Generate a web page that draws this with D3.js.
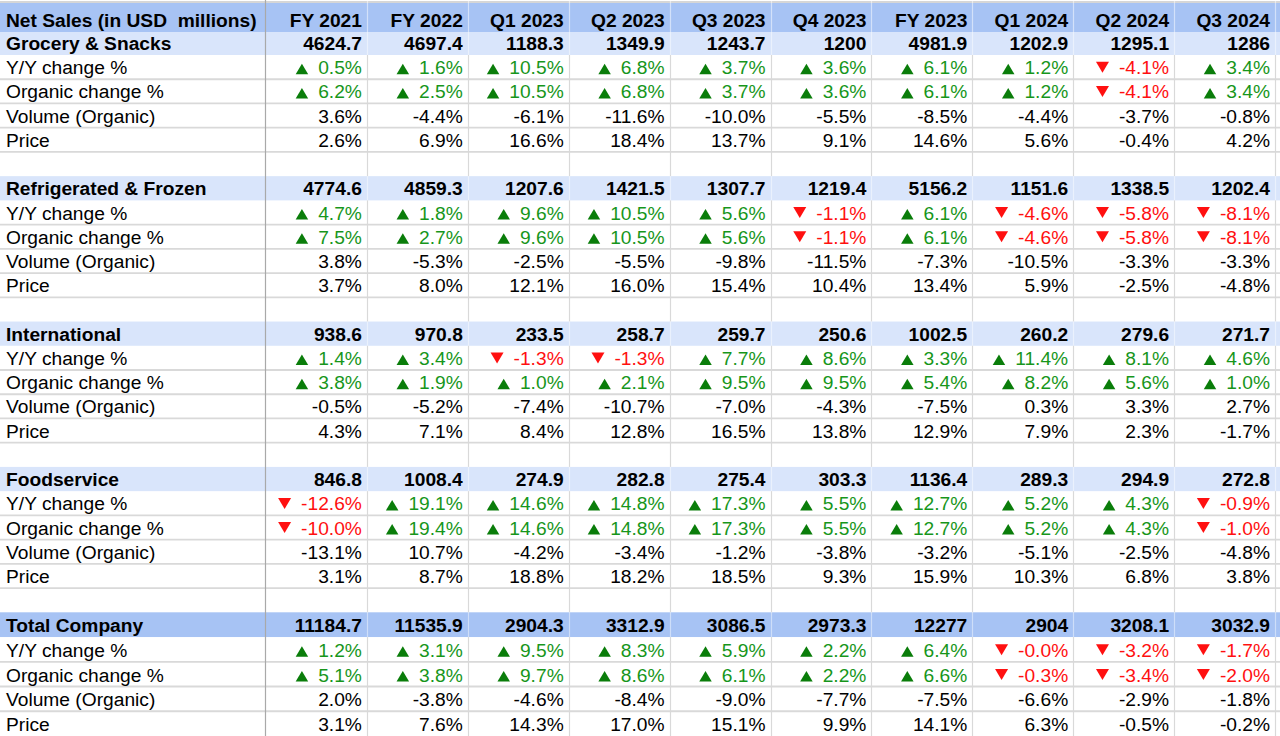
<!DOCTYPE html>
<html><head><meta charset="utf-8">
<script src="https://cdn.jsdelivr.net/npm/d3@7"></script>
<style>
html,body{margin:0;padding:0;background:#fff;}
svg text{font-family:"Liberation Sans",Arial,sans-serif;white-space:pre;}
</style></head>
<body><svg id="c" width="1280" height="736"></svg>
<script>
const headerLabel = "Net Sales (in USD  millions)";
const columns = ["FY 2021","FY 2022","Q1 2023","Q2 2023","Q3 2023","Q4 2023","FY 2023","Q1 2024","Q2 2024","Q3 2024"];
const segments = ["Grocery & Snacks","Refrigerated & Frozen","International","Foodservice","Total Company"];
const metrics = ["Y/Y change %","Organic change %","Volume (Organic)","Price"];

const groceryNet     = [4624.7, 4697.4, 1188.3, 1349.9, 1243.7, 1200, 4981.9, 1202.9, 1295.1, 1286];
const groceryYoY     = [0.5, 1.6, 10.5, 6.8, 3.7, 3.6, 6.1, 1.2, -4.1, 3.4];
const groceryOrganic = [6.2, 2.5, 10.5, 6.8, 3.7, 3.6, 6.1, 1.2, -4.1, 3.4];
const groceryVolume  = [3.6, -4.4, -6.1, -11.6, -10.0, -5.5, -8.5, -4.4, -3.7, -0.8];
const groceryPrice   = [2.6, 6.9, 16.6, 18.4, 13.7, 9.1, 14.6, 5.6, -0.4, 4.2];

const refrigNet     = [4774.6, 4859.3, 1207.6, 1421.5, 1307.7, 1219.4, 5156.2, 1151.6, 1338.5, 1202.4];
const refrigYoY     = [4.7, 1.8, 9.6, 10.5, 5.6, -1.1, 6.1, -4.6, -5.8, -8.1];
const refrigOrganic = [7.5, 2.7, 9.6, 10.5, 5.6, -1.1, 6.1, -4.6, -5.8, -8.1];
const refrigVolume  = [3.8, -5.3, -2.5, -5.5, -9.8, -11.5, -7.3, -10.5, -3.3, -3.3];
const refrigPrice   = [3.7, 8.0, 12.1, 16.0, 15.4, 10.4, 13.4, 5.9, -2.5, -4.8];

const intlNet     = [938.6, 970.8, 233.5, 258.7, 259.7, 250.6, 1002.5, 260.2, 279.6, 271.7];
const intlYoY     = [1.4, 3.4, -1.3, -1.3, 7.7, 8.6, 3.3, 11.4, 8.1, 4.6];
const intlOrganic = [3.8, 1.9, 1.0, 2.1, 9.5, 9.5, 5.4, 8.2, 5.6, 1.0];
const intlVolume  = [-0.5, -5.2, -7.4, -10.7, -7.0, -4.3, -7.5, 0.3, 3.3, 2.7];
const intlPrice   = [4.3, 7.1, 8.4, 12.8, 16.5, 13.8, 12.9, 7.9, 2.3, -1.7];

const foodNet     = [846.8, 1008.4, 274.9, 282.8, 275.4, 303.3, 1136.4, 289.3, 294.9, 272.8];
const foodYoY     = [-12.6, 19.1, 14.6, 14.8, 17.3, 5.5, 12.7, 5.2, 4.3, -0.9];
const foodOrganic = [-10.0, 19.4, 14.6, 14.8, 17.3, 5.5, 12.7, 5.2, 4.3, -1.0];
const foodVolume  = [-13.1, 10.7, -4.2, -3.4, -1.2, -3.8, -3.2, -5.1, -2.5, -4.8];
const foodPrice   = [3.1, 8.7, 18.8, 18.2, 18.5, 9.3, 15.9, 10.3, 6.8, 3.8];

const totalNet     = [11184.7, 11535.9, 2904.3, 3312.9, 3086.5, 2973.3, 12277, 2904, 3208.1, 3032.9];
const totalYoY     = [1.2, 3.1, 9.5, 8.3, 5.9, 2.2, 6.4, -0.0, -3.2, -1.7];
const totalOrganic = [5.1, 3.8, 9.7, 8.6, 6.1, 2.2, 6.6, -0.3, -3.4, -2.0];
const totalVolume  = [2.0, -3.8, -4.6, -8.4, -9.0, -7.7, -7.5, -6.6, -2.9, -1.8];
const totalPrice   = [3.1, 7.6, 14.3, 17.0, 15.1, 9.9, 14.1, 6.3, -0.5, -0.2];

const segmentData = [
  [groceryNet, groceryYoY, groceryOrganic, groceryVolume, groceryPrice],
  [refrigNet, refrigYoY, refrigOrganic, refrigVolume, refrigPrice],
  [intlNet, intlYoY, intlOrganic, intlVolume, intlPrice],
  [foodNet, foodYoY, foodOrganic, foodVolume, foodPrice],
  [totalNet, totalYoY, totalOrganic, totalVolume, totalPrice]
];

// build rows
const rows = [];
segments.forEach((s, si) => {
  const d = segmentData[si];
  rows.push({type: si === segments.length - 1 ? "total" : "segment", label: s, values: d[0], kind: "net"});
  metrics.forEach((m, mi) => {
    rows.push({type: "metric", label: m, values: d[mi + 1], kind: mi < 2 ? "change" : "plain"});
  });
  if (si < segments.length - 1) rows.push({type: "blank", label: "", values: null});
});
const N = rows.length;

const W = 1280, H = 736;
const svg = d3.select("#c");
const firstColRight = 266;
const x = d3.scaleBand().domain(columns).range([firstColRight, 1275]);
const headerTop = 3, headerBottom = 32;
// row index -> y of the row's top edge (spreadsheet rows are not all equally tall)
const y = d3.scaleLinear().domain([0, 1, 24, N]).range([headerBottom, 55, 612.3, 736]);
const rowTop = i => y(i), rowBot = i => y(i + 1);

const FS = 19.2;
const headerFill = "#a7c3f4";
const segFill = "#d9e5fb";
const gridColor = "#d9d9d9";
const green = "#17961b", greenTri = "#0a7d0a", red = "#ff1010";

svg.append("rect").attr("width", W).attr("height", H).attr("fill", "#fff");

// header background
svg.append("rect").attr("x", 0).attr("y", headerTop).attr("width", W).attr("height", headerBottom - headerTop).attr("fill", headerFill);
svg.append("line").attr("x1", 0).attr("x2", W).attr("y1", 2).attr("y2", 2).attr("stroke", "#c8c8c8").attr("stroke-width", 1.5);

const idx = rows.map((r, i) => ({r, i}));

// row backgrounds
svg.append("g").selectAll("rect").data(idx.filter(d => d.r.type === "segment" || d.r.type === "total"))
  .join("rect")
  .attr("x", 0).attr("y", d => rowTop(d.i)).attr("width", W).attr("height", d => rowBot(d.i) - rowTop(d.i))
  .attr("fill", d => d.r.type === "total" ? headerFill : segFill);

// horizontal grid lines between white rows
const colored = t => t === "segment" || t === "total";
svg.append("g").selectAll("line").data(idx.filter(d => d.i > 0 && !colored(d.r.type) && !colored(rows[d.i - 1].type)))
  .join("line")
  .attr("x1", 0).attr("x2", W)
  .attr("y1", d => rowTop(d.i)).attr("y2", d => rowTop(d.i))
  .attr("stroke", gridColor)
  .attr("stroke-width", 1.8);

// vertical lines
const vx = columns.map(c => x(c) + x.bandwidth());
const vg = svg.append("g");
rows.forEach((r, i) => {
  const col = colored(r.type);
  vg.selectAll(null).data(vx).join("line")
    .attr("x1", d => Math.round(d) + 0.5).attr("x2", d => Math.round(d) + 0.5)
    .attr("y1", rowTop(i)).attr("y2", rowBot(i))
    .attr("stroke", col ? "rgba(255,255,255,0.45)" : gridColor).attr("stroke-width", 1.2);
});
vg.selectAll(null).data(vx).join("line")
  .attr("x1", d => Math.round(d) + 0.5).attr("x2", d => Math.round(d) + 0.5)
  .attr("y1", 0).attr("y2", headerBottom)
  .attr("stroke", "rgba(255,255,255,0.5)").attr("stroke-width", 1.2);
vg.append("line").attr("x1", firstColRight - 0.5).attr("x2", firstColRight - 0.5).attr("y1", 0).attr("y2", H)
  .attr("stroke", "#a9a9a9").attr("stroke-width", 1.2);

// header text
const hg = svg.append("g").attr("font-size", FS).attr("font-weight", "bold").attr("fill", "#000");
hg.append("text").attr("x", 6).attr("y", headerBottom - 5).text(headerLabel);
hg.selectAll("text.col").data(columns).join("text").attr("class", "col")
  .attr("x", c => x(c) + x.bandwidth() - 5).attr("y", headerBottom - 5)
  .attr("text-anchor", "end").text(c => c);

function fmtPct(v) {
  const neg = v < 0 || Object.is(v, -0);
  return (neg ? "-" : "") + Math.abs(v).toFixed(1) + "%";
}

const body = svg.append("g").attr("font-size", FS);
rows.forEach((r, i) => {
  const base = rowBot(i) - 5;
  const bold = colored(r.type);
  if (r.label) {
    body.append("text").attr("x", 6).attr("y", base).attr("font-weight", bold ? "bold" : "normal")
      .attr("fill", "#000").text(r.label);
  }
  if (!r.values) return;
  const cells = body.selectAll(null).data(r.values.map((v, ci) => ({v, c: columns[ci]}))).join("g");
  cells.each(function(d) {
    const g = d3.select(this);
    const xr = x(d.c) + x.bandwidth() - 5;
    if (r.kind === "net") {
      g.append("text").attr("x", xr).attr("y", base).attr("text-anchor", "end")
        .attr("font-weight", "bold").attr("fill", "#000").text(String(d.v));
    } else if (r.kind === "plain") {
      g.append("text").attr("x", xr).attr("y", base).attr("text-anchor", "end").attr("fill", "#000").text(fmtPct(d.v));
    } else {
      const neg = d.v < 0 || Object.is(d.v, -0);
      const t = g.append("text").attr("x", xr).attr("y", base).attr("text-anchor", "end")
        .attr("fill", neg ? red : green).text(fmtPct(d.v));
      const w = t.node().getComputedTextLength();
      const tr = xr - w - 10;
      const p = d3.path();
      if (neg) {
        const tw = 13, top = base - 12.5, bot = base - 1.5;
        p.moveTo(tr - tw, top); p.lineTo(tr, top); p.lineTo(tr - tw / 2, bot);
      } else {
        const tw = 12.5, top = base - 10.5, bot = base;
        p.moveTo(tr - tw, bot); p.lineTo(tr, bot); p.lineTo(tr - tw / 2, top);
      }
      p.closePath();
      g.append("path").attr("d", p.toString()).attr("fill", neg ? red : greenTri);
    }
  });
});
</script></body></html>
